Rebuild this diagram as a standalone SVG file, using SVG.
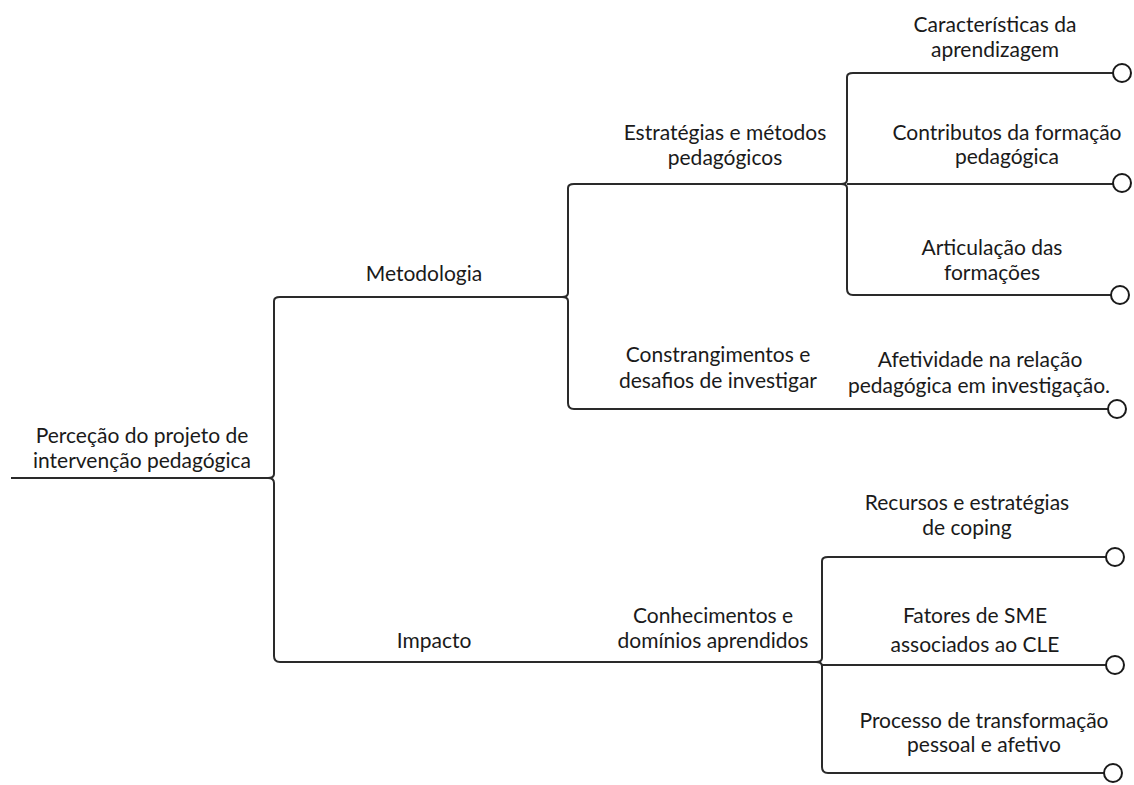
<svg xmlns="http://www.w3.org/2000/svg" width="1134" height="785" viewBox="0 0 1134 785">
<style>
text{font-family:Lato,"Open Sans",sans-serif;font-size:21px;fill:#1a1a1a;text-anchor:middle}
.ln{fill:none;stroke:#2a2a2a;stroke-width:2}
.end{fill:#fff;stroke:#1a1a1a;stroke-width:2}
</style>
<rect width="1134" height="785" fill="#fff"/>
<g id="connectors">
<path class="ln" d="M11,478 H268 Q274,478 274,474 V301 Q274,297 280,297 H562 Q568,297 568,293 V188 Q568,184 574,184 H841 Q847,184 847,180 V77 Q847,73 853,73 H1113"/>
<path class="ln" d="M268,478 Q274,478 274,483 V656 Q274,662 280,662 H816 Q822,662 822,658 V561 Q822,557 828,557 H1106"/>
<path class="ln" d="M562,297 Q568,297 568,301 V403 Q568,409 574,409 H1108"/>
<path class="ln" d="M841,184 Q847,184 847,188 V289 Q847,295 853,295 H1111"/>
<path class="ln" d="M847,184 H1113"/>
<path class="ln" d="M816,662 Q822,662 822,666 V767 Q822,773 828,773 H1104"/>
<path class="ln" d="M822,665 H1106"/>
</g>
<g id="root"><text x="142" y="443">Perceção do projeto de</text><text x="142" y="468">intervenção pedagógica</text></g>
<g id="metodologia"><text x="424" y="281">Metodologia</text></g>
<g id="impacto"><text x="434" y="648">Impacto</text></g>
<g id="estrategias"><text x="725" y="140">Estratégias e métodos</text><text x="725" y="165">pedagógicos</text></g>
<g id="constrangimentos"><text x="718" y="362">Constrangimentos e</text><text x="718" y="388">desafios de investigar</text></g>
<g id="conhecimentos"><text x="713" y="623">Conhecimentos e</text><text x="713" y="648">domínios aprendidos</text></g>
<g id="caracteristicas"><text x="995" y="32">Características da</text><text x="995" y="57">aprendizagem</text><circle class="end" cx="1122" cy="73" r="9"/></g>
<g id="contributos"><text x="1007" y="140">Contributos da formação</text><text x="1007" y="164">pedagógica</text><circle class="end" cx="1122" cy="183" r="9"/></g>
<g id="articulacao"><text x="992" y="255">Articulação das</text><text x="992" y="280">formações</text><circle class="end" cx="1120" cy="295" r="9"/></g>
<g id="afetividade"><text x="980" y="367">Afetividade na relação</text><text x="979" y="393">pedagógica em investigação.</text><circle class="end" cx="1117" cy="409" r="9"/></g>
<g id="recursos"><text x="967" y="510">Recursos e estratégias</text><text x="967" y="535">de coping</text><circle class="end" cx="1115" cy="557" r="9"/></g>
<g id="fatores"><text x="975" y="623">Fatores de SME</text><text x="975" y="652">associados ao CLE</text><circle class="end" cx="1115" cy="665" r="9"/></g>
<g id="processo"><text x="984" y="728">Processo de transformação</text><text x="984" y="752">pessoal e afetivo</text><circle class="end" cx="1113" cy="773" r="9"/></g>
</svg>
